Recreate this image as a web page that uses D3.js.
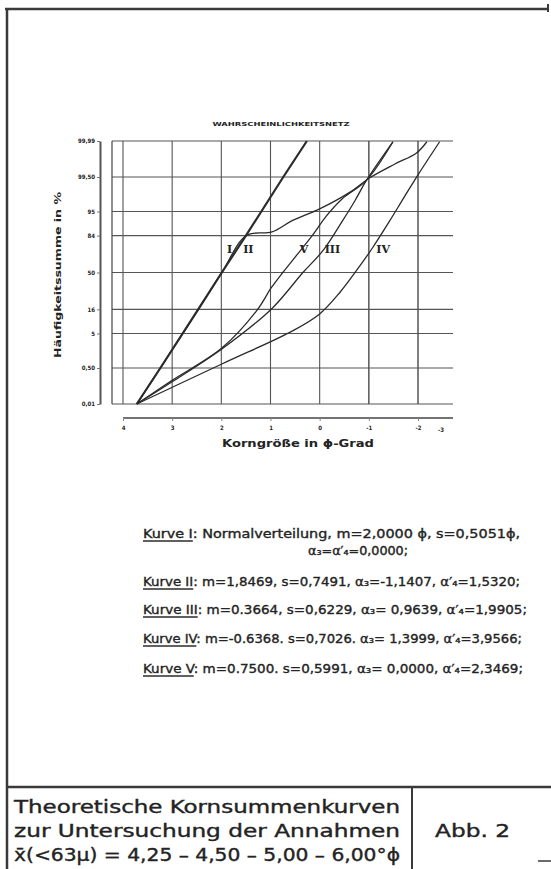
<!DOCTYPE html>
<html>
<head>
<meta charset="utf-8">
<script src="https://cdn.jsdelivr.net/npm/d3@7"></script>
<style>
  body { margin: 0; background: #fff; }
  svg { display: block; }
  text { font-family: "DejaVu Sans Condensed", "DejaVu Sans", sans-serif; fill: #232323; }
  .heavy { stroke: #232323; stroke-width: 0.35; }
</style>
</head>
<body>
<svg id="chart" width="551" height="869"></svg>
<script>
// grain size axis (phi degrees) and probability axis (cumulative %)
var phiTicks = [4, 3, 2, 1, 0, -1, -2];
var phiTickLabels = ['4', '3', '2', '1', '0', '-1', '-2'];
var pctTicks = [0.01, 0.5, 5, 16, 50, 84, 95, 99.5, 99.99];
var pctTickLabels = ['0,01', '0,50', '5', '16', '50', '84', '95', '99,50', '99,99'];

// curves: [phi, cumulative %]
var curveI = [[3.72, 0.01], [3.24, 0.5], [2.47, 16], [1.99, 50], [1.50, 84], [0.74, 99.5], [0.26, 99.99]];
var curveII = [[3.72, 0.01], [3.24, 0.5], [2.47, 16], [1.99, 50], [1.49, 84.1], [0.97, 86.3], [0.55, 92.0],
  [0.0, 95.7], [-0.61, 98.47], [-1.02, 99.47], [-1.53, 99.86], [-1.97, 99.958], [-2.18, 99.989]];
var curveIII = [[3.72, 0.01], [3.0, 0.13], [1.99, 1.96], [0.98, 16.3], [0.34, 50], [-0.07, 72.4],
  [-0.47, 92.0], [-0.72, 97.4], [-0.95, 99.35], [-1.49, 99.989]];
var curveIV = [[3.72, 0.01], [1.99, 0.68], [0.54, 5.85], [0.0, 13.2], [-0.41, 29.5], [-0.75, 52.2],
  [-1.08, 75.0], [-1.43, 92.0], [-1.71, 97.8], [-2.0, 99.59], [-2.44, 99.989]];
var curveV = [[3.72, 0.01], [3.0, 0.15], [1.99, 2.07], [1.28, 15.2], [0.98, 34.3], [0.75, 50],
  [0.45, 69], [0.14, 84.5], [-0.13, 93.5], [-0.45, 97.6], [-0.95, 99.35], [-1.49, 99.989]];

var curveData = [curveI, curveII, curveIII, curveIV, curveV];
var labelNames = ['I', 'II', 'V', 'III', 'IV'];
var labelPhi = [1.83, 1.45, 0.32, -0.26, -1.29];
var labelPct = 74;

var legendHead = ['Kurve I', 'Kurve II', 'Kurve III', 'Kurve IV', 'Kurve V'];
var legendTail = [
  ': Normalverteilung, m=2,0000 \u03d5, s=0,5051\u03d5,',
  ': m=1,8469, s=0,7491, \u03b1\u2083=-1,1407, \u03b1\u2032\u2084=1,5320;',
  ': m=0.3664, s=0,6229, \u03b1\u2083= 0,9639, \u03b1\u2032\u2084=1,9905;',
  ': m=-0.6368. s=0,7026. \u03b1\u2083= 1,3999, \u03b1\u2032\u2084=3,9566;',
  ': m=0.7500. s=0,5991, \u03b1\u2083= 0,0000, \u03b1\u2032\u2084=2,3469;'
];
var legendExtra = '\u03b1\u2083=\u03b1\u2032\u2084=0,0000;';

var titleLines = ['Theoretische Kornsummenkurven', 'zur Untersuchung der Annahmen',
  'x\u0304(<63\u00b5) = 4,25 \u2013 4,50 \u2013 5,00 \u2013 6,00\u00b0\u03d5'];
var figLabel = 'Abb. 2';

// inverse normal (Acklam) for the probability grid
function probit(p) {
  var a = [-39.69683028665376, 220.9460984245205, -275.9285104469687, 138.3577518672690, -30.66479806614716, 2.506628277459239];
  var b = [-54.47609879822406, 161.5858368580409, -155.6989798598866, 66.80131188771972, -13.28068155288572];
  var c = [-0.007784894002430293, -0.3223964580411365, -2.400758277161838, -2.549732539343734, 4.374664141464968, 2.938163982698783];
  var d = [0.007784695709041462, 0.3224671290700398, 2.445134137142996, 3.754408661907416];
  var q, r;
  if (p < 0.02425) {
    q = Math.sqrt(-2 * Math.log(p));
    return (((((c[0] * q + c[1]) * q + c[2]) * q + c[3]) * q + c[4]) * q + c[5]) / ((((d[0] * q + d[1]) * q + d[2]) * q + d[3]) * q + 1);
  }
  if (p > 1 - 0.02425) {
    q = Math.sqrt(-2 * Math.log(1 - p));
    return -(((((c[0] * q + c[1]) * q + c[2]) * q + c[3]) * q + c[4]) * q + c[5]) / ((((d[0] * q + d[1]) * q + d[2]) * q + d[3]) * q + 1);
  }
  q = p - 0.5; r = q * q;
  return (((((a[0] * r + a[1]) * r + a[2]) * r + a[3]) * r + a[4]) * r + a[5]) * q / (((((b[0] * r + b[1]) * r + b[2]) * r + b[3]) * r + b[4]) * r + 1);
}

var svg = d3.select('#chart');
var ink = '#2b2b2b';

var plot = { left: 112, right: 453, top: 141, bottom: 404 };
var edge = 36; // outer band of the probability net is squeezed

var x = d3.scaleLinear().domain([4, -2]).range([plot.left + 11, plot.left + 306]);
var zy = d3.scaleLinear()
  .domain([probit(0.0001), probit(0.005), probit(0.995), probit(0.9999)])
  .range([plot.bottom, plot.bottom - edge, plot.top + edge, plot.top]);
function y(pct) { return zy(probit(pct / 100)); }

// page frame
var frame = svg.append('g').attr('stroke', '#3a3a3a').attr('fill', 'none');
frame.append('line').attr('x1', 5).attr('x2', 548).attr('y1', 9).attr('y2', 9).attr('stroke-width', 2.5);
frame.append('line').attr('x1', 7).attr('x2', 7).attr('y1', 9).attr('y2', 869).attr('stroke-width', 2.5);
frame.append('line').attr('x1', 548).attr('x2', 548).attr('y1', 4).attr('y2', 12).attr('stroke-width', 2);
frame.append('line').attr('x1', 7).attr('x2', 551).attr('y1', 787).attr('y2', 787).attr('stroke-width', 2.5);
frame.append('line').attr('x1', 412).attr('x2', 412).attr('y1', 787).attr('y2', 869).attr('stroke-width', 2);
frame.append('line').attr('x1', 538).attr('x2', 551).attr('y1', 861).attr('y2', 861).attr('stroke-width', 1.5);

// net
var g = svg.append('g');
g.append('g').selectAll('line').data(phiTicks).join('line')
  .attr('x1', function (d) { return x(d); }).attr('x2', function (d) { return x(d); })
  .attr('y1', plot.top).attr('y2', plot.bottom)
  .attr('stroke', '#555').attr('stroke-width', function (d) { return d < 0 ? 1.5 : 1.1; });
g.append('g').selectAll('line').data(pctTicks).join('line')
  .attr('x1', plot.left).attr('x2', plot.right)
  .attr('y1', function (d) { return y(d); }).attr('y2', function (d) { return y(d); })
  .attr('stroke', '#555').attr('stroke-width', 1.1);
g.append('line').attr('x1', plot.left).attr('x2', plot.left).attr('y1', plot.top).attr('y2', plot.bottom)
  .attr('stroke', '#444').attr('stroke-width', 1.2);

svg.append('text').attr('x', 281).attr('y', 126).attr('text-anchor', 'middle')
  .attr('font-size', 5.5).attr('font-weight', 'bold')
  .attr('textLength', 137).attr('lengthAdjust', 'spacingAndGlyphs')
  .text('WAHRSCHEINLICHKEITSNETZ');

// y axis
var yAxis = d3.axisLeft(zy).tickValues(pctTicks.map(function (p) { return probit(p / 100); }))
  .tickFormat(function (d, i) { return pctTickLabels[i]; }).tickSize(3).tickSizeOuter(0).tickPadding(2);
var ya = svg.append('g').attr('transform', 'translate(100,0)').call(yAxis);
ya.select('.domain').attr('stroke', '#555').attr('stroke-width', 2);
ya.selectAll('.tick line').attr('stroke', '#777');
ya.selectAll('.tick text').attr('font-size', 6).attr('font-weight', 'bold').attr('fill', '#444')
  .style('font-family', '"DejaVu Sans Condensed", sans-serif');

svg.append('text').attr('transform', 'translate(61,275) rotate(-90)').attr('text-anchor', 'middle')
  .attr('font-size', 9.5).attr('font-weight', 'bold').attr('fill', '#333')
  .attr('textLength', 166).attr('lengthAdjust', 'spacingAndGlyphs')
  .text('H\u00e4ufigkeitssumme in %');

// x axis
var xAxis = d3.axisBottom(x).tickValues(phiTicks)
  .tickFormat(function (d, i) { return phiTickLabels[i]; }).tickSize(3).tickSizeOuter(0).tickPadding(5);
var xa = svg.append('g').attr('transform', 'translate(0,418)').call(xAxis);
xa.select('.domain').attr('stroke', '#444').attr('stroke-width', 1.6).attr('d', 'M' + x(4) + ',0H' + plot.right);
xa.selectAll('.tick line').attr('stroke', '#888');
xa.selectAll('.tick text').attr('font-size', 6).attr('font-weight', 'bold').attr('fill', '#444')
  .style('font-family', '"DejaVu Sans Condensed", sans-serif');
xa.append('text').attr('x', plot.right - 12).attr('y', 14).attr('text-anchor', 'middle')
  .attr('font-size', 6).attr('font-weight', 'bold').attr('fill', '#444').text('-3');

svg.append('text').attr('x', 298).attr('y', 447).attr('text-anchor', 'middle')
  .attr('font-size', 10).attr('font-weight', 'bold').attr('fill', '#333')
  .attr('textLength', 152).attr('lengthAdjust', 'spacingAndGlyphs')
  .text('Korngr\u00f6\u00dfe in  \u03d5-Grad');

// curves
var straight = d3.line()
  .x(function (d) { return x(d[0]); })
  .y(function (d) { return y(d[1]); });
var smooth = d3.line()
  .x(function (d) { return x(d[0]); })
  .y(function (d) { return y(d[1]); })
  .curve(d3.curveCatmullRom.alpha(0.5));
svg.append('g').selectAll('path').data(curveData).join('path')
  .attr('d', function (d, i) { return i === 0 ? straight(d) : smooth(d); })
  .attr('fill', 'none').attr('stroke', ink)
  .attr('stroke-width', function (d, i) { return i === 0 ? 2.2 : 1.3; })
  .attr('stroke-linejoin', 'round');

svg.append('g').selectAll('text').data(labelNames).join('text')
  .attr('x', function (d, i) { return x(labelPhi[i]); })
  .attr('y', y(labelPct) + 4)
  .attr('text-anchor', 'middle')
  .attr('font-size', 11).attr('font-weight', 'bold')
  .style('font-family', '"DejaVu Serif", serif')
  .text(function (d) { return d; });

// legend text block
var rowY = [538, 586, 614, 643, 673];
var rowW = [377, 377, 384, 379, 380];
legendHead.forEach(function (h, i) {
  var t = svg.append('text').attr('class', 'heavy').attr('x', 143).attr('y', rowY[i]).attr('font-size', 13)
    .attr('textLength', rowW[i]).attr('lengthAdjust', 'spacingAndGlyphs')
    .text(h + legendTail[i]);
  var box = t.node().getExtentOfChar(h.length - 1);
  svg.append('line').attr('x1', 143).attr('x2', box.x + box.width)
    .attr('y1', rowY[i] + 3).attr('y2', rowY[i] + 3)
    .attr('stroke', ink).attr('stroke-width', 1.3);
});
svg.append('text').attr('class', 'heavy').attr('x', 308).attr('y', 555).attr('font-size', 12.5)
  .attr('textLength', 100).attr('lengthAdjust', 'spacingAndGlyphs').text(legendExtra);

// title block
var titleY = [813, 837, 861];
titleLines.forEach(function (s, i) {
  svg.append('text').attr('class', 'heavy').attr('x', 14).attr('y', titleY[i]).attr('font-size', 18)
    .attr('textLength', 386).attr('lengthAdjust', 'spacingAndGlyphs').text(s);
});
svg.append('text').attr('class', 'heavy').attr('x', 435).attr('y', 837).attr('font-size', 18)
  .attr('textLength', 75).attr('lengthAdjust', 'spacingAndGlyphs').text(figLabel);
</script>
</body>
</html>
